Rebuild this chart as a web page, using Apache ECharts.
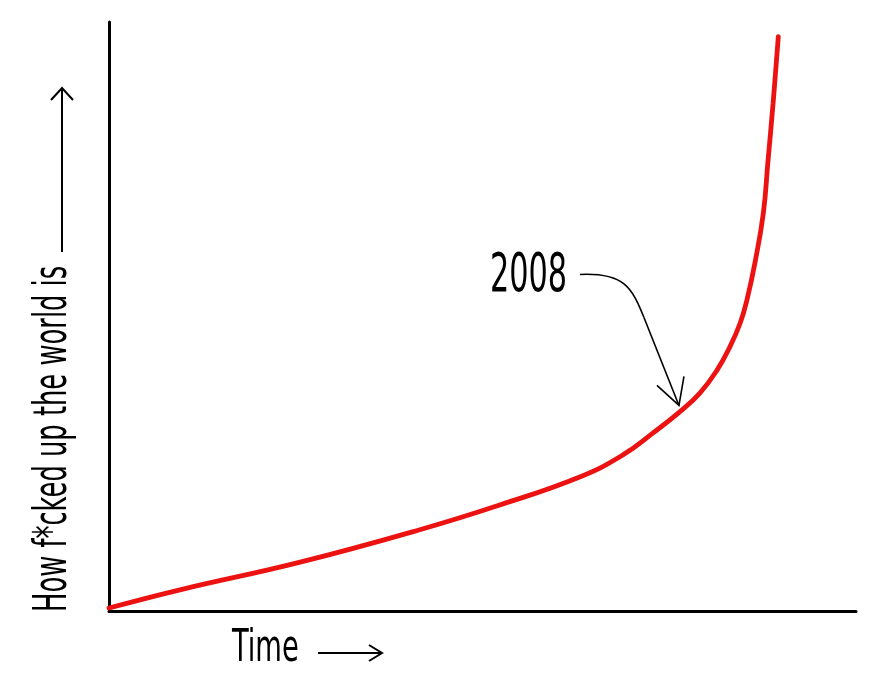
<!DOCTYPE html>
<html>
<head>
<meta charset="utf-8">
<script src="https://cdn.jsdelivr.net/npm/echarts@6/dist/echarts.min.js"></script>
<style>html,body{margin:0;padding:0;background:#fff;}#c{width:882px;height:680px;}</style>
</head>
<body>
<div id="c"></div>
<script>
// Data (x: time, y: how f*cked up the world is)
const timeValues = [0, 9.5, 25.6, 41.6, 52.3, 63.1, 68.8, 72.8, 76.4, 79.1, 81.4, 83.1, 84.5, 85.4, 86.5, 87.6, 88.2, 88.9, 89.6];
const worldValues = [0.5, 3.6, 8.3, 13.8, 18.0, 22.8, 26.5, 30.2, 33.8, 37.0, 40.9, 44.8, 48.9, 52.8, 59.3, 67.6, 76.1, 86.2, 97.5];
const annotationLabel = '2008';
const annotationPoint = [76.3, 34.9];
const xAxisTitle = 'Time';
const yAxisTitle = 'How f*cked up the world is';

const FONT = "'Liberation Sans Narrow', 'DejaVu Sans Condensed', 'Roboto', sans-serif";
const chart = echarts.init(document.getElementById('c'));
const seriesData = timeValues.map((t, i) => [t, worldValues[i]]);

chart.setOption({
  animation: false,
  backgroundColor: '#fff',
  grid: { left: 109, right: 26, top: 22, bottom: 69 },
  xAxis: {
    type: 'value', min: 0, max: 100,
    axisLine: { show: true, lineStyle: { color: '#000', width: 3 } },
    axisTick: { show: false }, axisLabel: { show: false }, splitLine: { show: false }
  },
  yAxis: {
    type: 'value', min: 0, max: 100,
    axisLine: { show: true, lineStyle: { color: '#000', width: 3 } },
    axisTick: { show: false }, axisLabel: { show: false }, splitLine: { show: false }
  },
  series: [{
    type: 'line',
    data: seriesData,
    smooth: 0.45,
    showSymbol: false,
    lineStyle: { color: '#ec1212', width: 4.8, cap: 'round' }
  }]
});

function txt(text, x, y, size, sx, rot) {
  return {
    type: 'text', x: x, y: y, scaleX: sx, rotation: rot || 0, silent: true,
    style: {
      text: text, fontSize: size, fontFamily: FONT, fill: '#000',
      align: 'left', verticalAlign: 'middle',
      textAlign: 'left', textVerticalAlign: 'middle'
    }
  };
}
function arrowLine(points, w) {
  return { type: 'polyline', silent: true, shape: { points: points },
    style: { stroke: '#000', lineWidth: w || 2, fill: null } };
}

const tip = chart.convertToPixel({ gridIndex: 0 }, annotationPoint);
const tx = tip[0], ty = tip[1];

chart.setOption({
  graphic: [
    txt(xAxisTitle, 232, 650, 44, 0.69, 0),
    arrowLine([[318, 653], [382, 653]], 2),
    arrowLine([[369, 645], [382, 653], [369, 661]], 2),
    txt(yAxisTitle, 54, 612, 47, 0.61, Math.PI / 2),
    arrowLine([[62, 252], [62, 88]], 2),
    arrowLine([[51, 100], [62, 88], [73, 100]], 2),
    txt(annotationLabel, tx - 189, ty - 128, 53, 0.636, 0),
    { type: 'bezierCurve', silent: true,
      shape: { x1: tx - 99, y1: ty - 131, cpx1: tx - 55, cpy1: ty - 133,
               cpx2: tx - 47, cpy2: ty - 118, x2: tx - 35, y2: ty - 88 },
      style: { stroke: '#000', lineWidth: 1.6, fill: null } },
    { type: 'line', silent: true,
      shape: { x1: tx - 35, y1: ty - 88, x2: tx, y2: ty },
      style: { stroke: '#000', lineWidth: 1.6 } },
    arrowLine([[tx - 22, ty - 20], [tx, ty], [tx + 5, ty - 29]], 1.6)
  ]
});
</script>
</body>
</html>
